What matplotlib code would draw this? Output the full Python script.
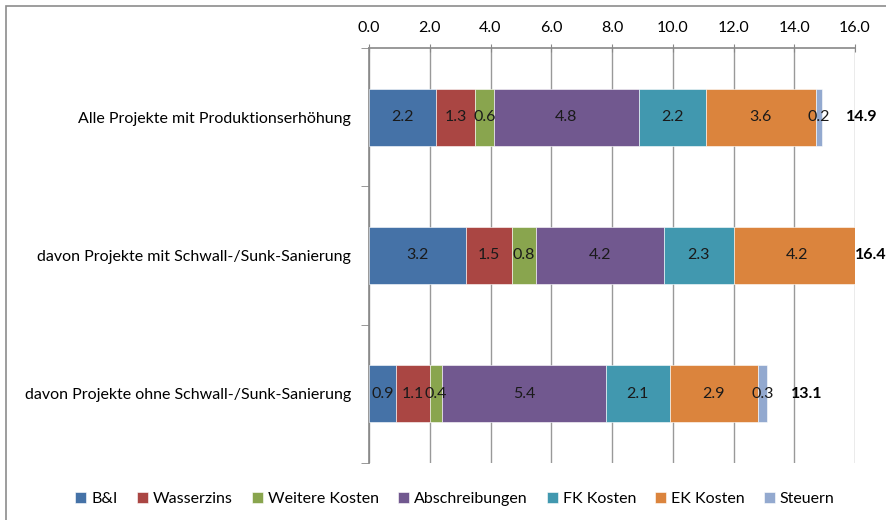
import matplotlib.pyplot as plt
from matplotlib.patches import Rectangle
import numpy as np

plt.rcParams['font.family'] = ['Lato', 'DejaVu Sans']

categories = ['Alle Projekte mit Produktionserhöhung',
              'davon Projekte mit Schwall-/Sunk-Sanierung',
              'davon Projekte ohne Schwall-/Sunk-Sanierung']
series = ['B&I', 'Wasserzins', 'Weitere Kosten', 'Abschreibungen', 'FK Kosten', 'EK Kosten', 'Steuern']
colors = ['#4572A7', '#AA4643', '#89A54E', '#71588F', '#4198AF', '#DB843D', '#93A9CF']

bi       = [2.2, 3.2, 0.9]
wasser   = [1.3, 1.5, 1.1]
weitere  = [0.6, 0.8, 0.4]
abschr   = [4.8, 4.2, 5.4]
fk       = [2.2, 2.3, 2.1]
ek       = [3.6, 4.2, 2.9]
steuern  = [0.2, 0.2, 0.3]
totals   = [14.9, 16.4, 13.1]

values = np.array([bi, wasser, weitere, abschr, fk, ek, steuern])
xmax = 16.0
fs = 11.5

fig = plt.figure(figsize=(8.86, 5.2), dpi=100)
ax = fig.add_axes([369/886, 1 - 463/520, (855 - 369)/886, (463 - 48)/520])

# outer chart frame (cut at right and bottom in the original)
fig.patches.append(Rectangle((6/886, -0.1), 1.2, 1 - 6/520 + 0.1, transform=fig.transFigure,
                             fill=False, edgecolor='#8c8c8c', linewidth=1.2))

y = np.arange(len(categories))
left = np.zeros(len(categories))
for i, name in enumerate(series):
    ax.barh(y, values[i], left=left, height=0.41, color=colors[i], label=name,
            edgecolor='white', linewidth=0.4, zorder=3)
    for j in range(len(categories)):
        cx = left[j] + values[i][j] / 2
        if cx < xmax:
            ax.text(cx, y[j], f'{values[i][j]:.1f}', ha='center', va='center',
                    fontsize=fs, color='#1a1a1a', zorder=4)
    left += values[i]

for j, t in enumerate(totals):
    ax.text(min(t + 0.8, xmax), y[j], f'{t:.1f}', ha='left', va='center',
            fontsize=fs, fontweight='bold', color='black', zorder=4, clip_on=False)

ax.set_xlim(0, xmax)
ax.set_ylim(len(categories) - 0.5, -0.5)
ax.set_xticks(np.arange(0, 16.1, 2))
ax.set_xticklabels([f'{v:.1f}' for v in np.arange(0, 16.1, 2)], fontsize=fs)
ax.xaxis.tick_top()
ax.tick_params(axis='x', direction='inout', length=6, color='#888888', pad=6)
ax.grid(axis='x', color='#999999', linewidth=1.0, zorder=0)

ax.set_yticks(y)
ax.set_yticklabels(categories, fontsize=fs)
ax.tick_params(axis='y', length=0, pad=13)
ax.set_yticks(np.arange(-0.5, len(categories)), minor=True)
ax.tick_params(axis='y', which='minor', length=6, direction='out', color='#888888')

for s in ['right', 'bottom']:
    ax.spines[s].set_visible(False)
for s in ['left', 'top']:
    ax.spines[s].set_color('#888888')
    ax.spines[s].set_linewidth(1.2)

handles, labels = ax.get_legend_handles_labels()
fig.legend(handles, labels, loc='center', bbox_to_anchor=(455/886, 1 - 499/520), ncol=7,
           frameon=False, fontsize=fs, handlelength=0.7, handleheight=0.7,
           handletextpad=0.3, columnspacing=1.2)

fig.savefig('out.png', dpi=100)
